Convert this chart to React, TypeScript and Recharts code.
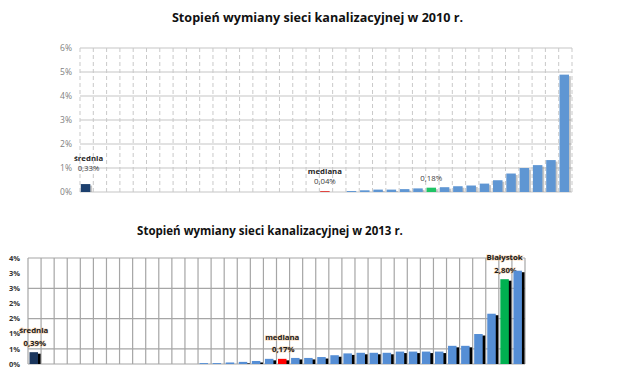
import { BarChart, Bar, XAxis, YAxis, CartesianGrid } from 'recharts';

// 2010
const cities2010 = [
  'średnia',
  'miasto 1', 'miasto 2', 'miasto 3', 'miasto 4', 'miasto 5', 'miasto 6', 'miasto 7', 'miasto 8', 'miasto 9',
  'miasto 10', 'miasto 11', 'miasto 12', 'miasto 13', 'miasto 14', 'miasto 15', 'miasto 16', 'miasto 17',
  'mediana',
  'miasto 18', 'miasto 19', 'miasto 20', 'miasto 21', 'miasto 22', 'miasto 23', 'miasto 24',
  'Białystok',
  'miasto 25', 'miasto 26', 'miasto 27', 'miasto 28', 'miasto 29', 'miasto 30', 'miasto 31', 'miasto 32',
  'miasto 33', 'miasto 34',
];
const values2010 = [
  0.33,
  0, 0, 0, 0, 0, 0, 0, 0, 0, 0, 0, 0, 0, 0, 0, 0, 0,
  0.04,
  0, 0.04, 0.07, 0.1, 0.1, 0.12, 0.15,
  0.18,
  0.2, 0.24, 0.27, 0.35, 0.49, 0.77, 1.0, 1.12, 1.33, 4.89,
];
const yTicks2010 = [0, 1, 2, 3, 4, 5, 6];

// 2013
const cities2013 = [
  'średnia',
  'miasto 1', 'miasto 2', 'miasto 3', 'miasto 4', 'miasto 5', 'miasto 6', 'miasto 7', 'miasto 8', 'miasto 9',
  'miasto 10', 'miasto 11', 'miasto 12',
  'miasto 13', 'miasto 14', 'miasto 15', 'miasto 16', 'miasto 17', 'miasto 18',
  'mediana',
  'miasto 19', 'miasto 20', 'miasto 21', 'miasto 22', 'miasto 23', 'miasto 24', 'miasto 25', 'miasto 26',
  'miasto 27', 'miasto 28', 'miasto 29', 'miasto 30', 'miasto 31', 'miasto 32', 'miasto 33', 'miasto 34',
  'Białystok',
  'miasto 35',
];
const values2013 = [
  0.39,
  0, 0, 0, 0, 0, 0, 0, 0, 0, 0, 0, 0,
  0.03, 0.03, 0.05, 0.07, 0.1, 0.17,
  0.17,
  0.2, 0.2, 0.23, 0.29, 0.35, 0.37, 0.37, 0.37, 0.41, 0.41, 0.41, 0.41, 0.6, 0.6, 0.99, 1.66,
  2.8,
  3.08,
];
const yTicks2013 = [0, 0.5, 1, 1.5, 2, 2.5, 3, 3.5];

const data2010 = cities2010.map((city, i) => ({ city, value: values2010[i] }));
const data2013 = cities2013.map((city, i) => ({ city, value: values2013[i] }));

const FONT = '"Open Sans", sans-serif';

const fmtValue = (v: number) => v.toFixed(2).replace('.', ',') + '%';

const boundaries = (count: number) => ({ offset }: any) => {
  const step = offset.width / count;
  const pts: number[] = [];
  for (let i = 0; i <= count; i++) pts.push(offset.left + i * step);
  return pts;
};

const colour2010 = (city: string) =>
  city === 'średnia' ? '#1c3f6e' : city === 'mediana' ? '#e0403c' : city === 'Białystok' ? '#1fc465' : '#5f96d3';
const colour2013 = (city: string) =>
  city === 'średnia' ? '#1b365d' : city === 'mediana' ? '#ff0000' : city === 'Białystok' ? '#00b050' : '#558ed5';

function Shape2010(props: any) {
  const { x, y, width, height, payload } = props;
  if (!height || height <= 0) return <g />;
  const city = payload.city;
  const bx = x - 1.2;
  const cx = bx + width / 2;
  const labelled = city === 'średnia' || city === 'mediana' || city === 'Białystok';
  const lift = city === 'średnia' ? 16 : 10;
  return (
    <g>
      <rect x={bx + 1.8} y={y + 1.5} width={width} height={Math.max(height - 1.5, 0)} fill="#8c8c8c" opacity={0.5} />
      <rect x={bx} y={y} width={width} height={height} fill={colour2010(city)} />
      {labelled && (
        <g fontFamily={FONT} textAnchor="middle" dominantBaseline="central">
          {city !== 'Białystok' && (
            <text x={city === 'średnia' ? cx + 3 : cx} y={y - lift - 10.5} fontSize={7.8} fontWeight={700} fill="#262626">
              {city}
            </text>
          )}
          <text x={city === 'średnia' ? cx + 3 : cx} y={y - lift} fontSize={7.8} fill="#404040">
            {fmtValue(payload.value)}
          </text>
        </g>
      )}
    </g>
  );
}

function Shape2013(props: any) {
  const { x, y, width, height, payload } = props;
  if (!height || height <= 0) return <g />;
  const city = payload.city;
  const bx = x - 0.5;
  const cx = bx + width / 2;
  const labelled = city === 'średnia' || city === 'mediana' || city === 'Białystok';
  return (
    <g>
      <rect x={bx + 2.6} y={y + 1.5} width={width} height={Math.max(height - 1.5, 0)} fill="#000" />
      <rect x={bx} y={y} width={width} height={height} fill={colour2013(city)} />
      {labelled && (
        <g
          fontFamily={FONT}
          textAnchor="middle"
          dominantBaseline="central"
          fontWeight={700}
          fontSize={7.8}
          fill="#1a1a1a"
          stroke="#f6b26b"
          strokeWidth={1.4}
          strokeOpacity={0.35}
          paintOrder="stroke"
        >
          <text x={cx} y={y - 22}>{city}</text>
          <text x={cx + 1} y={y - 9.5}>{fmtValue(payload.value)}</text>
        </g>
      )}
    </g>
  );
}

export default function App() {
  return (
    <div
      style={{
        position: 'absolute',
        left: 0,
        top: 0,
        width: 633,
        height: 376,
        background: '#fff',
        fontFamily: FONT,
        overflow: 'hidden',
      }}
    >
      <div
        style={{
          position: 'absolute',
          left: 0,
          top: 10,
          width: 635,
          textAlign: 'center',
          fontSize: 12.6,
          lineHeight: '16px',
          fontWeight: 700,
          color: '#111',
        }}
      >
        Stopień wymiany sieci kanalizacyjnej w 2010 r.
      </div>

      <div style={{ position: 'absolute', left: 0, top: 0 }}>
        <BarChart width={633} height={200} data={data2010} margin={{ top: 48, right: 61, bottom: 8, left: 40 }} barSize={9.5}>
          <CartesianGrid vertical={false} stroke="#d9d9d9" strokeWidth={1.3} />
          <CartesianGrid
            horizontal={false}
            stroke="#c9c9c9"
            strokeDasharray="4 3"
            verticalCoordinatesGenerator={boundaries(cities2010.length)}
          />
          <XAxis dataKey="city" hide />
          <YAxis
            width={40}
            domain={[0, 6]}
            ticks={yTicks2010}
            tickFormatter={(v: number) => `${v}%`}
            axisLine={false}
            tickLine={false}
            tick={{ fontSize: 8.5, fill: '#808080', fontFamily: FONT }}
          />
          <Bar dataKey="value" shape={Shape2010} isAnimationActive={false} />
        </BarChart>
      </div>

      <div
        style={{
          position: 'absolute',
          left: 0,
          top: 223,
          width: 540,
          textAlign: 'center',
          fontSize: 11.5,
          lineHeight: '16px',
          fontWeight: 700,
          color: '#111',
        }}
      >
        Stopień wymiany sieci kanalizacyjnej w 2013 r.
      </div>

      <div style={{ position: 'absolute', left: 0, top: 240 }}>
        <BarChart width={633} height={136} data={data2013} margin={{ top: 18, right: 108, bottom: 12, left: 0 }} barSize={8.5}>
          <CartesianGrid
            stroke="#a6a6a6"
            strokeWidth={1.2}
            verticalCoordinatesGenerator={boundaries(cities2013.length)}
          />
          <XAxis dataKey="city" hide />
          <YAxis
            width={28}
            domain={[0, 3.5]}
            ticks={yTicks2013}
            tickFormatter={(v: number) => `${Math.round(v)}%`}
            axisLine={false}
            tickLine={false}
            tick={{ fontSize: 7.5, fill: '#333', fontWeight: 700, fontFamily: FONT }}
          />
          <Bar dataKey="value" shape={Shape2013} isAnimationActive={false} />
        </BarChart>
      </div>
    </div>
  );
}
